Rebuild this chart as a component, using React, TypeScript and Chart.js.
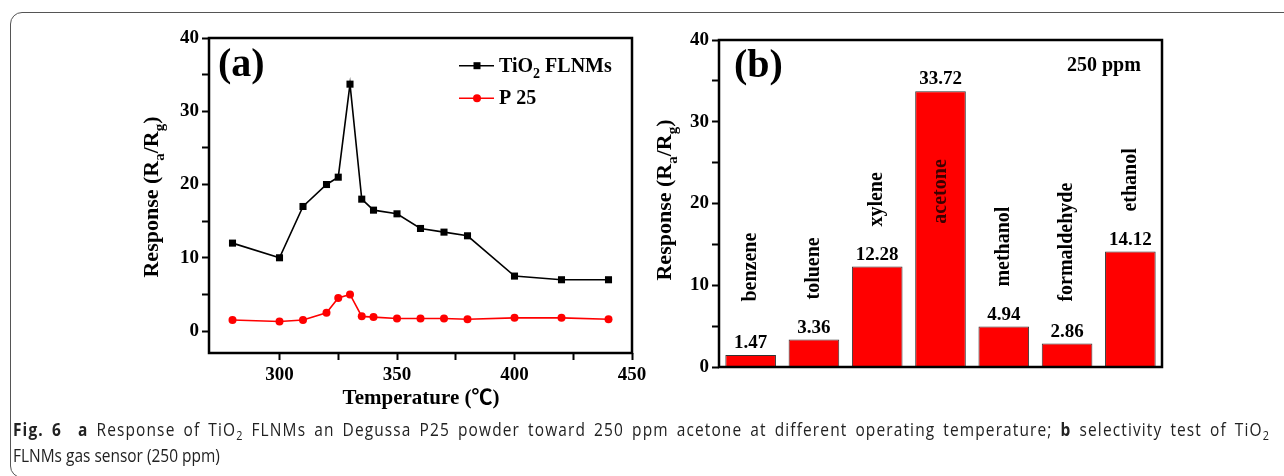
import React, { useEffect, useRef } from 'react';
import { Chart, registerables } from 'chart.js';

Chart.register(...registerables);

// ---------- data ----------
const temperatures = [280, 300, 310, 320, 325, 330, 335, 340, 350, 360, 370, 380, 400, 420, 440];
const tio2Response = [12.0, 10.0, 17.0, 20.0, 21.0, 33.7, 18.0, 16.5, 16.0, 14.0, 13.5, 13.0, 7.5, 7.0, 7.0];
const p25Response = [1.5, 1.3, 1.5, 2.5, 4.5, 5.0, 2.0, 1.9, 1.7, 1.7, 1.7, 1.6, 1.8, 1.8, 1.6];

const gasNames = ['benzene', 'toluene', 'xylene', 'acetone', 'methanol', 'formaldehyde', 'ethanol'];
const gasResponse = [1.47, 3.36, 12.28, 33.72, 4.94, 2.86, 14.12];

const yTickLabelsA = [0, 10, 20, 30, 40];
const xTickLabelsA = [300, 350, 400, 450];
const yTickLabelsB = [0, 10, 20, 30, 40];

// ---------- styling helpers ----------
const SERIF = '"Liberation Serif", "Times New Roman", "Noto Sans CJK SC", serif';
const RED = '#ff0000';

type Seg = { t: string; sub?: boolean };

function drawRich(
  ctx: CanvasRenderingContext2D,
  segs: Seg[],
  x: number,
  y: number,
  size: number,
  align: 'left' | 'center',
  subShift = 0.25
) {
  const mainF = `bold ${size}px ${SERIF}`;
  const subF = `bold ${Math.round(size * 0.7)}px ${SERIF}`;
  const widths = segs.map((s) => {
    ctx.font = s.sub ? subF : mainF;
    return ctx.measureText(s.t).width;
  });
  const total = widths.reduce((a, b) => a + b, 0);
  let cx = align === 'center' ? x - total / 2 : x;
  ctx.textAlign = 'left';
  ctx.textBaseline = 'alphabetic';
  segs.forEach((s, i) => {
    ctx.font = s.sub ? subF : mainF;
    ctx.fillText(s.t, cx, s.sub ? y + size * subShift : y);
    cx += widths[i];
  });
}

const yTitleSegs: Seg[] = [{ t: 'Response (R' }, { t: 'a', sub: true }, { t: '/R' }, { t: 'g', sub: true }, { t: ')' }];

const boxPlugin = {
  id: 'boxPlugin',
  afterDraw(chart: any) {
    const { ctx, chartArea: a } = chart;
    ctx.save();
    ctx.strokeStyle = '#000';
    ctx.lineWidth = 2.5;
    ctx.strokeRect(a.left, a.top, a.right - a.left, a.bottom - a.top);
    ctx.restore();
  },
};

const overlayA = {
  id: 'overlayA',
  afterDraw(chart: any) {
    const ctx: CanvasRenderingContext2D = chart.ctx;
    ctx.save();
    ctx.fillStyle = '#000';
    // panel letter
    ctx.font = `bold 40px ${SERIF}`;
    ctx.textAlign = 'left';
    ctx.textBaseline = 'alphabetic';
    ctx.fillText('(a)', 218, 76);
    // legend
    ctx.lineWidth = 1.6;
    ctx.strokeStyle = '#000';
    ctx.beginPath();
    ctx.moveTo(459, 65.7);
    ctx.lineTo(494, 65.7);
    ctx.stroke();
    ctx.fillRect(477 - 3.5, 65.7 - 3.5, 7, 7);
    ctx.strokeStyle = RED;
    ctx.beginPath();
    ctx.moveTo(459, 98.3);
    ctx.lineTo(494, 98.3);
    ctx.stroke();
    ctx.fillStyle = RED;
    ctx.beginPath();
    ctx.arc(477, 98.3, 4, 0, Math.PI * 2);
    ctx.fill();
    ctx.fillStyle = '#000';
    drawRich(ctx, [{ t: 'TiO' }, { t: '2', sub: true }, { t: ' FLNMs' }], 499, 72, 20, 'left', 0.3);
    drawRich(ctx, [{ t: 'P 25' }], 499, 104, 20, 'left');
    // x title
    drawRich(ctx, [{ t: 'Temperature (℃)' }], 421, 404, 21, 'center');
    // y title
    ctx.translate(158, 197);
    ctx.rotate(-Math.PI / 2);
    drawRich(ctx, yTitleSegs, 0, 0, 22, 'center');
    ctx.restore();
  },
};

const overlayB = {
  id: 'overlayB',
  afterDraw(chart: any) {
    const ctx: CanvasRenderingContext2D = chart.ctx;
    const yScale = chart.scales.y;
    const meta = chart.getDatasetMeta(0);
    ctx.save();
    ctx.fillStyle = '#000';
    ctx.font = `bold 40px ${SERIF}`;
    ctx.textAlign = 'left';
    ctx.textBaseline = 'alphabetic';
    ctx.fillText('(b)', 84, 77);
    drawRich(ctx, [{ t: '250 ppm' }], 417, 71, 20, 'left');

    meta.data.forEach((bar: any, i: number) => {
      const v = gasResponse[i];
      ctx.fillStyle = '#000';
      ctx.font = `bold 19px ${SERIF}`;
      ctx.textAlign = 'center';
      ctx.textBaseline = 'alphabetic';
      ctx.fillText(v.toFixed(2), bar.x, bar.y - 7);
      const valueTop = bar.y - 21;
      let bottom: number;
      let color = '#000';
      if (v > 25) {
        bottom = yScale.getPixelForValue(v * 0.52);
        color = '#3a0000';
      } else {
        bottom = Math.min(valueTop - 19, yScale.getPixelForValue(8));
      }
      ctx.save();
      ctx.translate(bar.x, bottom);
      ctx.rotate(-Math.PI / 2);
      ctx.fillStyle = color;
      ctx.font = `bold 20px ${SERIF}`;
      ctx.textAlign = 'left';
      ctx.textBaseline = 'middle';
      ctx.fillText(gasNames[i], 0, 0);
      ctx.restore();
    });

    ctx.fillStyle = '#000';
    ctx.translate(21, 200);
    ctx.rotate(-Math.PI / 2);
    drawRich(ctx, yTitleSegs, 0, 0, 22, 'center');
    ctx.restore();
  },
};

const tickFont = { family: SERIF, size: 19, weight: 'bold' as const };
const gridTicks = {
  display: true,
  drawOnChartArea: false,
  drawTicks: true,
  tickLength: 7,
  tickWidth: 2,
  tickColor: '#000',
};

function LeftChart() {
  const ref = useRef<HTMLCanvasElement | null>(null);
  useEffect(() => {
    if (!ref.current) return;
    const chart = new Chart(ref.current, {
      type: 'line',
      data: {
        datasets: [
          {
            label: 'TiO2 FLNMs',
            data: temperatures.map((t, i) => ({ x: t, y: tio2Response[i] })),
            borderColor: '#000',
            backgroundColor: '#000',
            borderWidth: 1.6,
            pointStyle: 'rect',
            pointRadius: 5,
            pointBorderWidth: 0,
            tension: 0,
          },
          {
            label: 'P 25',
            data: temperatures.map((t, i) => ({ x: t, y: p25Response[i] })),
            borderColor: RED,
            backgroundColor: RED,
            borderWidth: 1.6,
            pointStyle: 'circle',
            pointRadius: 4,
            pointBorderWidth: 0,
            tension: 0,
          },
        ],
      },
      options: {
        animation: false,
        responsive: false,
        layout: { padding: { top: 38, right: 18, left: 0, bottom: 0 } },
        plugins: { legend: { display: false }, tooltip: { enabled: false } },
        scales: {
          x: {
            type: 'linear',
            min: 270,
            max: 450,
            afterBuildTicks: (s: any) => {
              s.ticks = s.ticks.filter((t: any) => t.value % 25 === 0);
            },
            ticks: {
              stepSize: 25,
              autoSkip: false,
              maxRotation: 0,
              padding: 4,
              color: '#000',
              font: tickFont,
              callback: (v: any) => (xTickLabelsA.includes(Number(v)) ? String(v) : ''),
            },
            grid: gridTicks,
            border: { display: false },
            afterFit: (s: any) => {
              s.height = 67;
              s.paddingLeft = 0;
              s.paddingRight = 0;
            },
          },
          y: {
            type: 'linear',
            min: -3,
            max: 40,
            afterBuildTicks: (s: any) => {
              s.ticks = s.ticks.filter((t: any) => t.value % 5 === 0);
            },
            ticks: {
              stepSize: 5,
              autoSkip: false,
              padding: 3,
              color: '#000',
              font: tickFont,
              callback: (v: any) => (yTickLabelsA.includes(Number(v)) ? String(v) : ''),
            },
            grid: gridTicks,
            border: { display: false },
            afterFit: (s: any) => {
              s.width = 209;
              s.paddingTop = 0;
              s.paddingBottom = 0;
            },
          },
        },
      } as any,
      plugins: [boxPlugin, overlayA],
    });
    return () => chart.destroy();
  }, []);
  return (
    <canvas
      ref={ref}
      width={650}
      height={420}
      style={{ position: 'absolute', left: 0, top: 0, width: 650, height: 420 }}
    />
  );
}

function RightChart() {
  const ref = useRef<HTMLCanvasElement | null>(null);
  useEffect(() => {
    if (!ref.current) return;
    const chart = new Chart(ref.current, {
      type: 'bar',
      data: {
        labels: gasNames,
        datasets: [
          {
            data: gasResponse,
            backgroundColor: RED,
            borderColor: '#333',
            borderWidth: 1,
            barPercentage: 0.8,
            categoryPercentage: 1.0,
          },
        ],
      },
      options: {
        animation: false,
        responsive: false,
        layout: { padding: { top: 40, right: 28, left: 0, bottom: 0 } },
        plugins: { legend: { display: false }, tooltip: { enabled: false } },
        scales: {
          x: {
            grid: { display: false },
            ticks: { display: false },
            border: { display: false },
            afterFit: (s: any) => {
              s.height = 53;
              s.paddingLeft = 0;
              s.paddingRight = 0;
            },
          },
          y: {
            min: 0,
            max: 40,
            ticks: {
              stepSize: 5,
              autoSkip: false,
              padding: 3,
              color: '#000',
              font: tickFont,
              callback: (v: any) => (yTickLabelsB.includes(Number(v)) ? String(v) : ''),
            },
            grid: gridTicks,
            border: { display: false },
            afterFit: (s: any) => {
              s.width = 69;
              s.paddingTop = 0;
              s.paddingBottom = 0;
            },
          },
        },
      } as any,
      plugins: [boxPlugin, overlayB],
    });
    return () => chart.destroy();
  }, []);
  return (
    <canvas
      ref={ref}
      width={540}
      height={420}
      style={{ position: 'absolute', left: 650, top: 0, width: 540, height: 420 }}
    />
  );
}

const SCALE_X = 0.87;

export default function App() {
  const lineBase: React.CSSProperties = {
    position: 'absolute',
    left: 13,
    whiteSpace: 'nowrap',
    fontFamily: '"Open Sans", "Noto Sans", sans-serif',
    fontSize: 17.8,
    lineHeight: '26px',
    color: '#222',
    transform: `scaleX(${SCALE_X})`,
    transformOrigin: 'left top',
  };
  const sub: React.CSSProperties = { fontSize: '70%', lineHeight: 0, verticalAlign: '-0.3em' };
  return (
    <div
      style={{
        position: 'absolute',
        left: 0,
        top: 0,
        width: 1284,
        height: 476,
        overflow: 'hidden',
        background: '#fff',
      }}
    >
      <div
        style={{
          position: 'absolute',
          left: 10,
          top: 12,
          width: 1300,
          height: 466,
          border: '1.5px solid #555',
          borderRadius: 12,
          boxSizing: 'border-box',
        }}
      />
      <LeftChart />
      <RightChart />
      <div
        style={{
          ...lineBase,
          top: 416,
          width: 1257 / SCALE_X,
          textAlign: 'justify',
          textAlignLast: 'justify',
          whiteSpace: 'normal',
          letterSpacing: 1.3,
        }}
      >
        <b>Fig.&nbsp;6</b>&nbsp; <b>a</b> Response of TiO<span style={sub}>2</span> FLNMs an Degussa P25 powder
        toward 250 ppm acetone at different operating temperature; <b>b</b> selectivity test of TiO
        <span style={sub}>2</span>
      </div>
      <div style={{ ...lineBase, top: 442 }}>FLNMs gas sensor (250 ppm)</div>
    </div>
  );
}
